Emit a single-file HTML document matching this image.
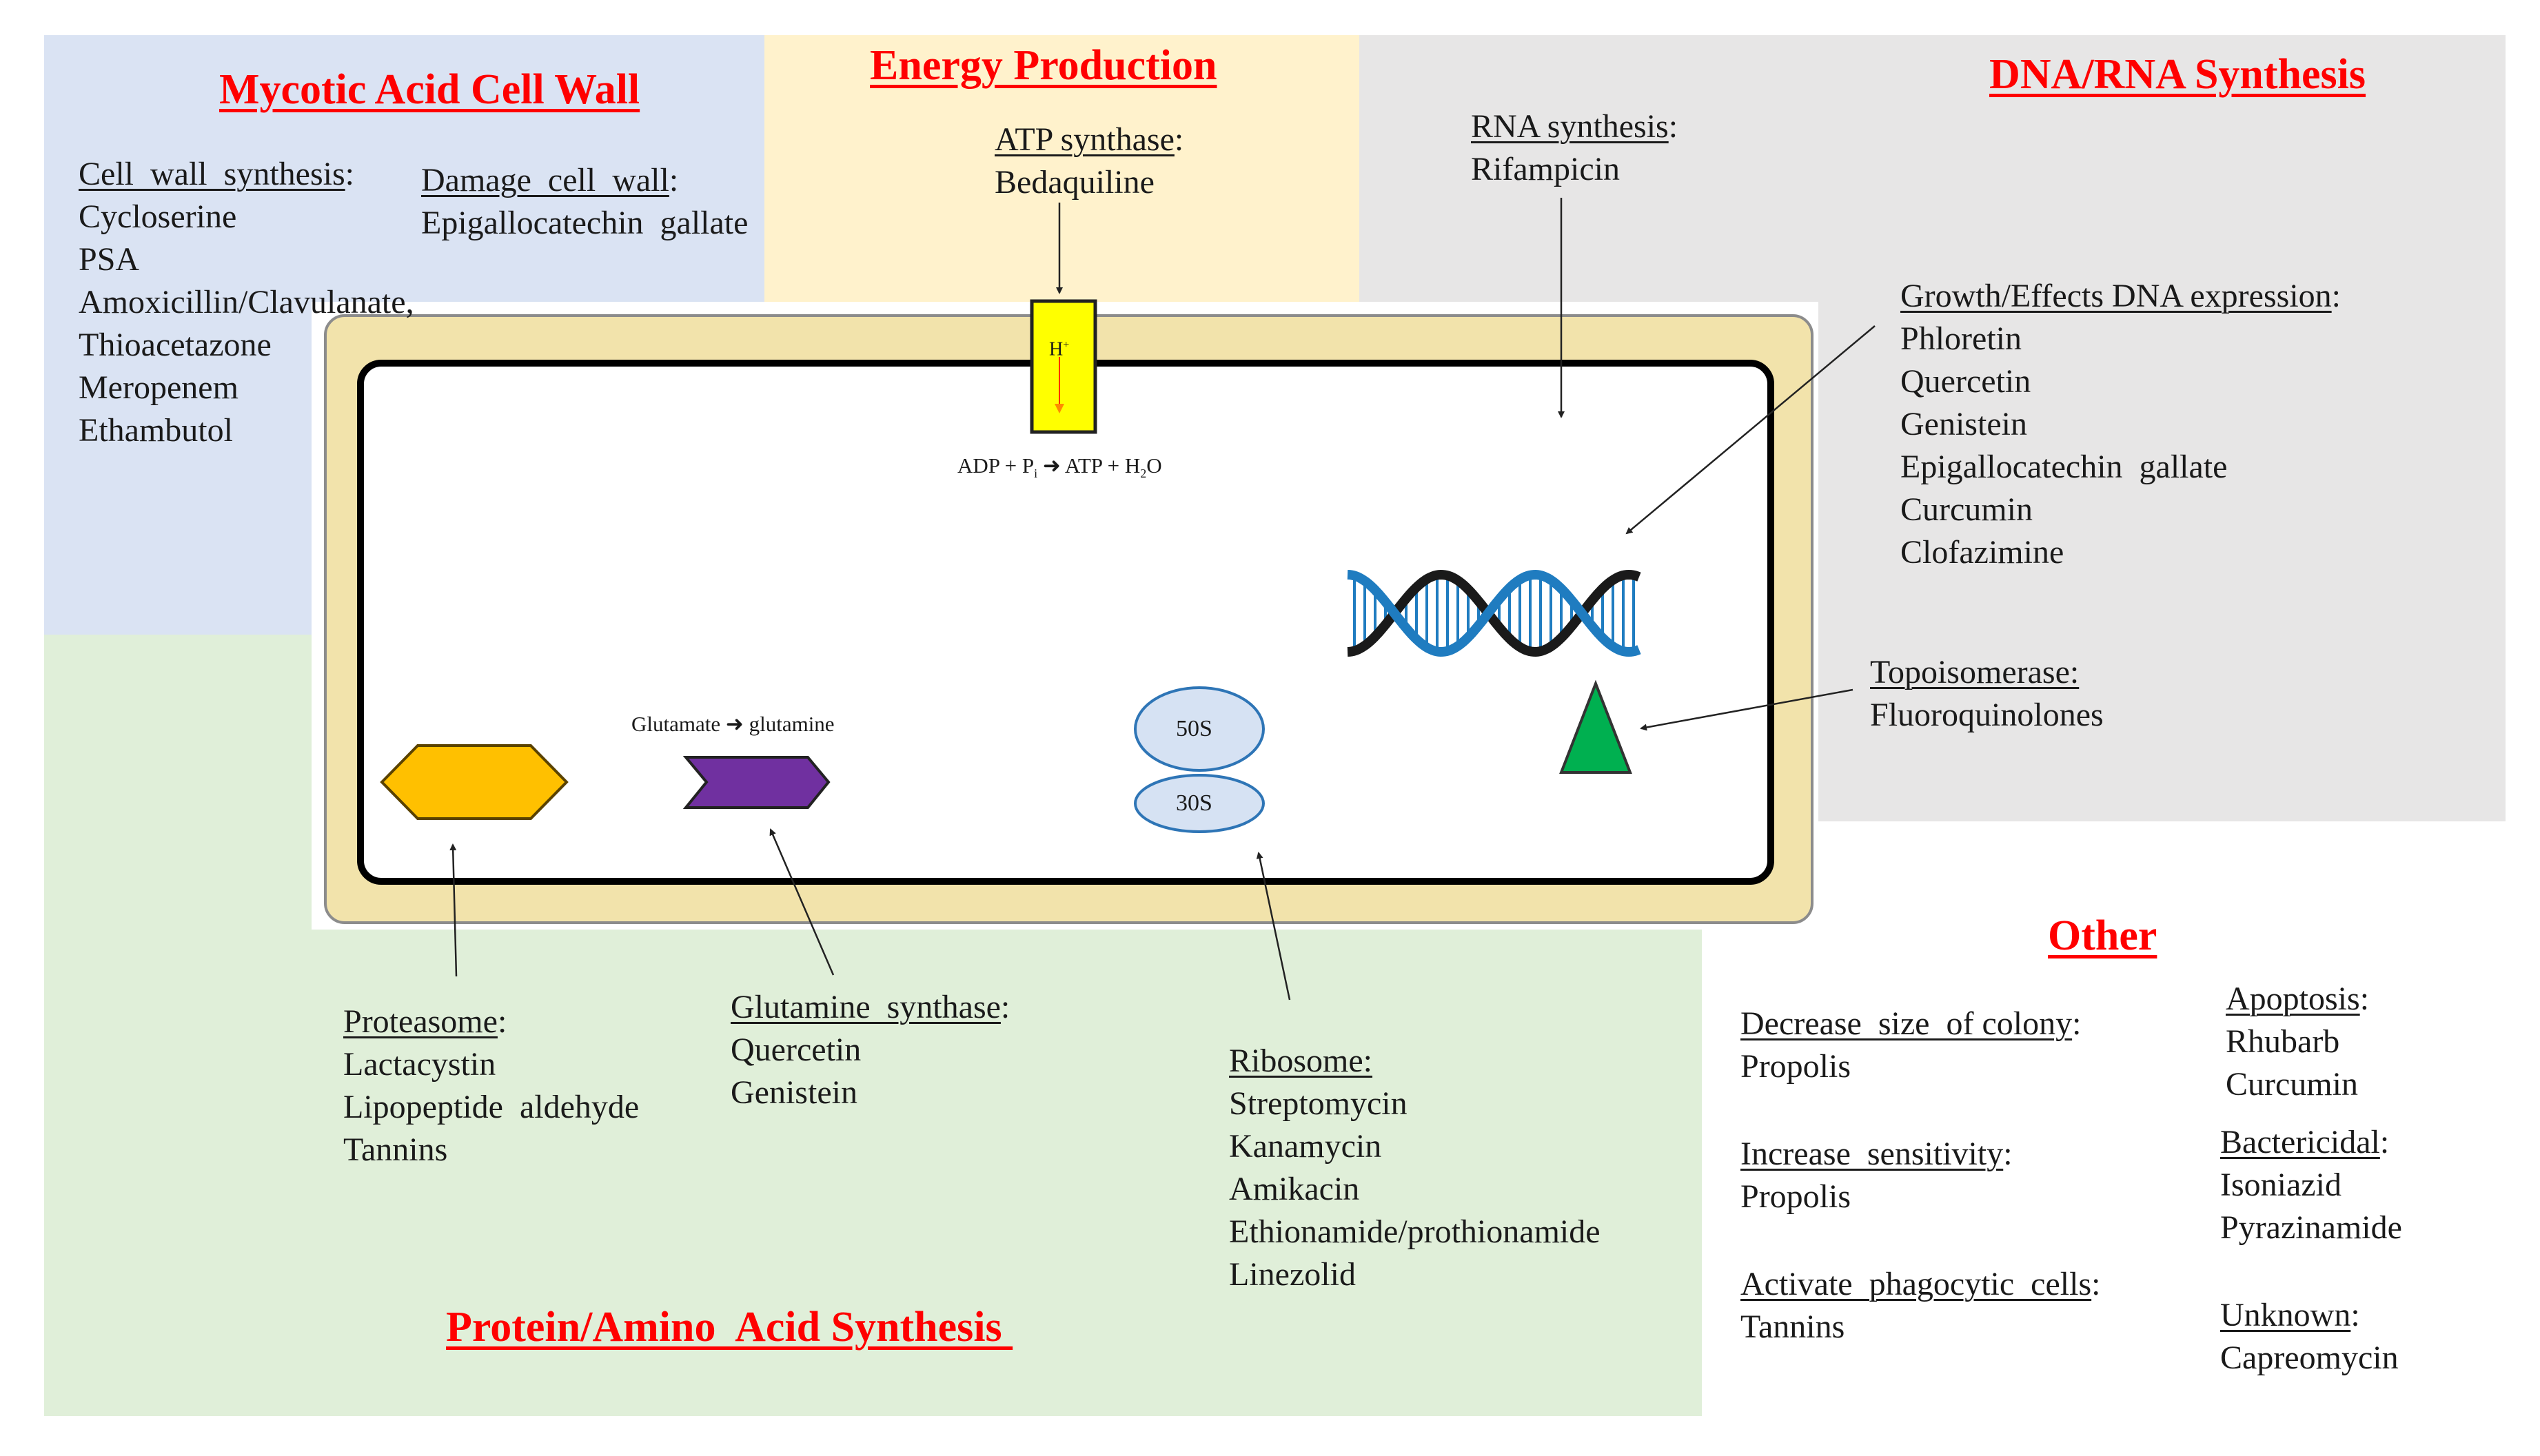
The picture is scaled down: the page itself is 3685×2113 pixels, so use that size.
<!DOCTYPE html>
<html><head><meta charset="utf-8"><style>
html,body{margin:0;padding:0;background:#fff}
#c{position:relative;width:3685px;height:2113px;overflow:hidden;font-family:"Liberation Serif","Times New Roman","DejaVu Serif",serif;color:#1a1a1a}
.t{position:absolute;font-size:48px;line-height:62px;white-space:nowrap}
.u{text-decoration:underline;text-decoration-thickness:3px;text-underline-offset:6px}
.h{position:absolute;font-weight:bold;color:#ff0000;font-size:62px;line-height:70px;white-space:nowrap;text-decoration:underline;text-decoration-thickness:5px;text-underline-offset:8px}
.s{position:absolute;font-size:31px;line-height:36px;white-space:nowrap}
</style></head><body><div id="c">
<svg width="3685" height="2113" style="position:absolute;left:0;top:0">
<defs>
<marker id="a" markerWidth="10" markerHeight="10" refX="8" refY="5" orient="auto" markerUnits="userSpaceOnUse"><path d="M0,0 L10,5 L0,10 z" fill="#222"/></marker>
<marker id="r" markerWidth="14" markerHeight="14" refX="10" refY="7" orient="auto" markerUnits="userSpaceOnUse"><path d="M0,0 L14,7 L0,14 z" fill="#ff8c00"/></marker>
</defs>
<rect x="64" y="51" width="1045" height="870" fill="#dae3f3"/>
<rect x="64" y="921" width="2405" height="1134" fill="#e0efd9"/>
<rect x="1109" y="51" width="863" height="387" fill="#fff2cc"/>
<rect x="1972" y="51" width="1663" height="1141" fill="#e7e6e6"/>
<rect x="452" y="438" width="2186" height="911" fill="#fff"/>
<rect x="472" y="458" width="2157" height="881" rx="28" fill="#f2e3ab" stroke="#8c8c8c" stroke-width="4"/>
<rect x="523" y="527" width="2046" height="752" rx="30" fill="#fff" stroke="#000" stroke-width="10"/>
<rect x="1497" y="437" width="92" height="190" fill="#ffff00" stroke="#222" stroke-width="5"/>
<line x1="1537" y1="518" x2="1537" y2="596" stroke="#ff3000" stroke-width="2" marker-end="url(#r)"/>
<polygon points="554,1135 606,1082 770,1082 822,1135 770,1188 606,1188" fill="#ffc000" stroke="#5a4200" stroke-width="4"/>
<polygon points="995,1099 1172,1099 1202,1135 1172,1172 995,1172 1025,1135" fill="#7030a0" stroke="#222" stroke-width="4"/>
<ellipse cx="1740" cy="1058" rx="93" ry="60" fill="#d6e2f3" stroke="#2e75b6" stroke-width="4"/>
<ellipse cx="1740" cy="1166" rx="93" ry="41" fill="#d6e2f3" stroke="#2e75b6" stroke-width="4"/>
<polygon points="2315,992 2265,1121 2365,1121" fill="#00b050" stroke="#333" stroke-width="4"/>
<g id="dna"></g>
<g stroke="#222" stroke-width="2.5" fill="none">
<line x1="1537" y1="294" x2="1537" y2="425" marker-end="url(#a)"/>
<line x1="2265" y1="287" x2="2265" y2="605" marker-end="url(#a)"/>
<line x1="2720" y1="473" x2="2360" y2="774" marker-end="url(#a)"/>
<line x1="2688" y1="1001" x2="2381" y2="1057" marker-end="url(#a)"/>
<line x1="662" y1="1417" x2="657" y2="1226" marker-end="url(#a)"/>
<line x1="1209" y1="1415" x2="1118" y2="1204" marker-end="url(#a)"/>
<line x1="1871" y1="1451" x2="1826" y2="1238" marker-end="url(#a)"/>
</g>
</svg>
<script>
(function(){
var g=document.getElementById('dna');
var x0=1955,x1=2380,c=890,A=56,P=272;
function y(x,s){return c-s*A*Math.cos(2*Math.PI*(x-x0)/P);}
var out='';
for(var x=x0+10;x<x1-4;x+=15){var a=y(x,1),b=y(x,-1);if(Math.abs(a-b)>14)out+='<line x1="'+x+'" y1="'+(Math.min(a,b)+6)+'" x2="'+x+'" y2="'+(Math.max(a,b)-6)+'" stroke="#1f7cc0" stroke-width="4"/>';}
var pb='',pk='';
for(var x=x0;x<=x1;x+=3){pb+=(x==x0?'M':'L')+x+','+y(x,1).toFixed(1);pk+=(x==x0?'M':'L')+x+','+y(x,-1).toFixed(1);}
out+='<path d="'+pk+'" stroke="#1a1a1a" stroke-width="14" fill="none"/>';
out+='<path d="'+pb+'" stroke="#1f7cc0" stroke-width="14" fill="none"/>';
g.innerHTML=out;
})();
</script>
<div class="h" style="left:318px;top:95px">Mycotic Acid Cell Wall</div>
<div class="h" style="left:1262px;top:60px">Energy Production</div>
<div class="h" style="left:2886px;top:73px">DNA/RNA Synthesis</div>
<div class="h" style="left:2971px;top:1323px">Other</div>
<div class="h" style="left:647px;top:1891px">Protein/Amino&nbsp; Acid Synthesis&nbsp;</div>
<div class="t" style="left:114px;top:222px"><span class="u">Cell&nbsp; wall&nbsp; synthesis</span>:<br>Cycloserine<br>PSA<br>Amoxicillin/Clavulanate,<br>Thioacetazone<br>Meropenem<br>Ethambutol</div>
<div class="t" style="left:611px;top:231px"><span class="u">Damage&nbsp; cell&nbsp; wall</span>:<br>Epigallocatechin&nbsp; gallate</div>
<div class="t" style="left:1443px;top:172px"><span class="u">ATP synthase</span>:<br>Bedaquiline</div>
<div class="t" style="left:2134px;top:153px"><span class="u">RNA synthesis</span>:<br>Rifampicin</div>
<div class="t" style="left:2757px;top:399px"><span class="u">Growth/Effects DNA expression</span>:<br>Phloretin<br>Quercetin<br>Genistein<br>Epigallocatechin&nbsp; gallate<br>Curcumin<br>Clofazimine</div>
<div class="t" style="left:2713px;top:945px"><span class="u">Topoisomerase:</span><br>Fluoroquinolones</div>
<div class="t" style="left:498px;top:1452px"><span class="u">Proteasome</span>:<br>Lactacystin<br>Lipopeptide&nbsp; aldehyde<br>Tannins</div>
<div class="t" style="left:1060px;top:1431px"><span class="u">Glutamine&nbsp; synthase</span>:<br>Quercetin<br>Genistein</div>
<div class="t" style="left:1783px;top:1509px"><span class="u">Ribosome:</span><br>Streptomycin<br>Kanamycin<br>Amikacin<br>Ethionamide/prothionamide<br>Linezolid</div>
<div class="t" style="left:2525px;top:1455px"><span class="u">Decrease&nbsp; size&nbsp; of colony</span>:<br>Propolis</div>
<div class="t" style="left:2525px;top:1644px"><span class="u">Increase&nbsp; sensitivity</span>:<br>Propolis</div>
<div class="t" style="left:2525px;top:1833px"><span class="u">Activate&nbsp; phagocytic&nbsp; cells</span>:<br>Tannins</div>
<div class="t" style="left:3229px;top:1419px"><span class="u">Apoptosis</span>:<br>Rhubarb<br>Curcumin</div>
<div class="t" style="left:3221px;top:1627px"><span class="u">Bactericidal</span>:<br>Isoniazid<br>Pyrazinamide</div>
<div class="t" style="left:3221px;top:1878px"><span class="u">Unknown</span>:<br>Capreomycin</div>
<div class="s" style="left:1389px;top:658px">ADP + P<sub style="font-size:18px">i</sub> &#10140; ATP + H<sub style="font-size:18px">2</sub>O</div>
<div class="s" style="left:916px;top:1033px">Glutamate &#10140; glutamine</div>
<div class="s" style="left:1522px;top:483px;font-size:28px">H<sup style="font-size:16px">+</sup></div>
<div class="s" style="left:1706px;top:1040px;font-size:34px">50S</div>
<div class="s" style="left:1706px;top:1148px;font-size:34px">30S</div>
</div></body></html>
